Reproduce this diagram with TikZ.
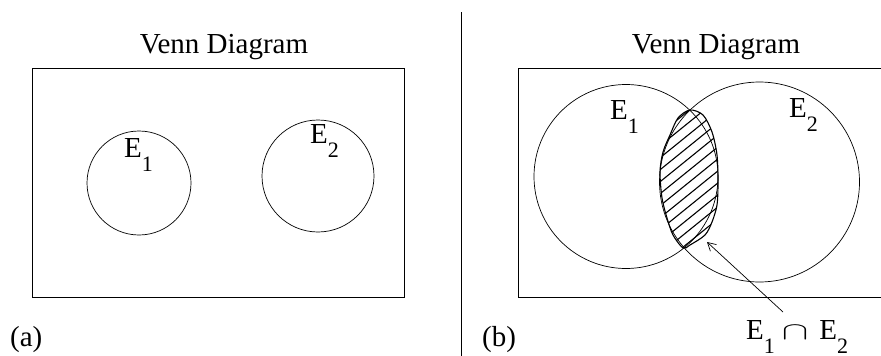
\documentclass[tikz,border=0pt]{standalone}
\usepackage{fontspec}
\setmainfont{Liberation Serif}
\usetikzlibrary{arrows.meta,calc}
\tikzset{>={Straight Barb[length=8pt,width=9pt]},line width=.8pt,
  every node/.style={font=\fontsize{29}{34}\selectfont,inner sep=0pt},
  frame/.style={draw,line width=.8pt},
  setc/.style={draw,line width=.7pt},
  title/.style={anchor=base},
  setlbl/.style={anchor=base west},
  hatch/.style={line width=1.1pt}}
\newcommand{\evt}[1]{E\raisebox{-14pt}{\fontsize{22}{24}\selectfont #1}}

\begin{document}
\begin{tikzpicture}[x=1pt,y=-1pt]
\useasboundingbox (0,0) rectangle (881,356);
% (a) two disjoint events
\node[title] (titleA) at (224,53) {Venn Diagram};
\draw[frame] (32,68) rectangle (404,297);
\draw[setc] (139,183) circle (52);
\draw[setc] (318,176) circle (56);
\node[setlbl] (eA1) at (124,157) {\evt{1}};
\node[setlbl] (eA2) at (310,143) {\evt{2}};
\node[setlbl] (capA) at (10,346) {(a)};
% divider
\draw (461,12) -- (461,356);
% (b) overlapping events
\node[title] (titleB) at (716,53) {Venn Diagram};
\draw[frame] (881,68) -- (518,68) -- (518,297) -- (881,297);
\draw[setc] (626,176.5) circle (92);
\draw[setc] (759.5,182) circle (100);
\node[setlbl] (eB1) at (610,119) {\evt{1}};
\node[setlbl] (eB2) at (789,117) {\evt{2}};
\def\lens{(690,110) (703,115) (712,132) (717,155) (718,182) (717,205) (712,222)
  (705,235) (690,245) (683,248) (673,235) (667,218) (662,198) (660,172)
  (663,152) (670,135) (678,118)}
\begin{scope}
\clip plot[smooth cycle] coordinates {\lens};
\foreach \b in {150,162,...,294} \draw[hatch] (640,\b) -- (740,\b-81);
\end{scope}
\draw[hatch] plot[smooth cycle] coordinates {\lens};
\node[setlbl] (capB) at (746,339) {\evt{1}\hspace{7pt}\scalebox{1.6}[1]{$\cap$}\hspace{11pt}\evt{2}};
\coordinate (tail) at (783,312);
\coordinate (tip) at (707,242);
\draw[->,line width=.7pt] (tail) -- (tip);
\node[setlbl] (capb) at (482,346) {(b)};
\end{tikzpicture}
\end{document}
